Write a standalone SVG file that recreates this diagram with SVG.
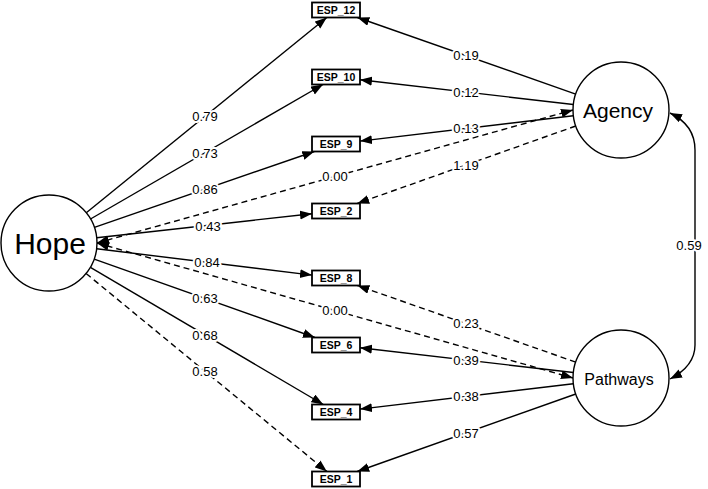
<svg xmlns="http://www.w3.org/2000/svg" width="708" height="489" viewBox="0 0 708 489">
<style>
.n{fill:#fff;stroke:#000;stroke-width:1.4}
.b{fill:#fff;stroke:#000;stroke-width:1.8}
.e{fill:none;stroke:#000;stroke-width:1.4}
.d{stroke-dasharray:6 4}
.bt{font-family:"Liberation Sans",Arial,sans-serif;font-size:10.5px;font-weight:bold;text-anchor:middle}
.l{font-family:"Liberation Sans",Arial,sans-serif;font-size:13px;text-anchor:middle;stroke:#fff;stroke-width:4;paint-order:stroke;stroke-linejoin:round}
.lt{font-family:"Liberation Sans",Arial,sans-serif;text-anchor:middle}
</style>
<defs>
<marker id="ah" markerUnits="userSpaceOnUse" markerWidth="13" markerHeight="10" refX="12" refY="4.5" orient="auto-start-reverse" viewBox="0 0 13 10">
<path d="M0,0 L12,4.5 L0,9 z" fill="#000"/>
</marker>
</defs>
<rect width="708" height="489" fill="#fff"/>
<g id="connectors">
<line class="e" x1="86.3" y1="212.7" x2="326.8" y2="17.5" marker-end="url(#ah)"/>
<line class="e" x1="90.5" y1="219.0" x2="323.0" y2="84.5" marker-end="url(#ah)"/>
<line class="e" x1="94.4" y1="227.3" x2="314.3" y2="151.5" marker-end="url(#ah)"/>
<line class="e" x1="96.7" y1="237.7" x2="312" y2="213.7" marker-end="url(#ah)"/>
<line class="e" x1="96.7" y1="248.8" x2="312" y2="275.1" marker-end="url(#ah)"/>
<line class="e" x1="94.2" y1="259.1" x2="314.9" y2="337.5" marker-end="url(#ah)"/>
<line class="e" x1="90.4" y1="267.4" x2="323.3" y2="404.5" marker-end="url(#ah)"/>
<line class="e d" x1="86.1" y1="273.5" x2="326.9" y2="471.5" marker-end="url(#ah)"/>
<line class="e" x1="575.7" y1="94.1" x2="357.4" y2="17.5" marker-end="url(#ah)"/>
<line class="e" x1="573.3" y1="104.5" x2="360" y2="79.8" marker-end="url(#ah)"/>
<line class="e" x1="573.3" y1="115.7" x2="360" y2="141.1" marker-end="url(#ah)"/>
<line class="e d" x1="575.8" y1="126.0" x2="357.2" y2="203.5" marker-end="url(#ah)"/>
<line class="e d" x1="575.7" y1="362.1" x2="357.4" y2="285.5" marker-end="url(#ah)"/>
<line class="e" x1="573.3" y1="372.5" x2="360" y2="347.8" marker-end="url(#ah)"/>
<line class="e" x1="573.3" y1="383.7" x2="360" y2="409.1" marker-end="url(#ah)"/>
<line class="e" x1="575.8" y1="394.0" x2="357.2" y2="471.5" marker-end="url(#ah)"/>
<line class="e d" x1="97" y1="243" x2="573" y2="110" marker-start="url(#ah)" marker-end="url(#ah)"/>
<line class="e d" x1="97" y1="243" x2="573" y2="378" marker-start="url(#ah)" marker-end="url(#ah)"/>
<path class="e" d="M670,113 Q695,125 695,150 L695,345 Q695,366 670,379" marker-start="url(#ah)" marker-end="url(#ah)"/>
<text class="l" x="205" y="121">0.79</text>
<text class="l" x="205" y="157.5">0.73</text>
<text class="l" x="205" y="194">0.86</text>
<text class="l" x="208" y="230.5">0.43</text>
<text class="l" x="207" y="267">0.84</text>
<text class="l" x="205" y="303">0.63</text>
<text class="l" x="205" y="339.5">0.68</text>
<text class="l" x="205" y="376">0.58</text>
<text class="l" x="335" y="181">0.00</text>
<text class="l" x="335" y="315">0.00</text>
<text class="l" x="466" y="60">0.19</text>
<text class="l" x="466" y="96.5">0.12</text>
<text class="l" x="466" y="133">0.13</text>
<text class="l" x="466" y="169.5">1.19</text>
<text class="l" x="466" y="328">0.23</text>
<text class="l" x="466" y="364.5">0.39</text>
<text class="l" x="466" y="401">0.38</text>
<text class="l" x="466" y="437.5">0.57</text>
<text class="l" x="689" y="249.5">0.59</text>
</g>
<g id="Hope"><circle class="n" cx="49" cy="243" r="48"/><text class="lt" x="50" y="254" font-size="30">Hope</text></g>
<g id="Agency"><circle class="n" cx="621" cy="110" r="48"/><text class="lt" x="618" y="118" font-size="21">Agency</text></g>
<g id="Pathways"><circle class="n" cx="621" cy="378" r="48"/><text class="lt" x="619" y="385" font-size="16">Pathways</text></g>
<g id="ESP_12"><rect class="b" x="312" y="2.5" width="48" height="15"/><text class="bt" x="336" y="14">ESP_12</text></g>
<g id="ESP_10"><rect class="b" x="312" y="69.5" width="48" height="15"/><text class="bt" x="336" y="81">ESP_10</text></g>
<g id="ESP_9"><rect class="b" x="312" y="136.5" width="48" height="15"/><text class="bt" x="336" y="148">ESP_9</text></g>
<g id="ESP_2"><rect class="b" x="312" y="203.5" width="48" height="15"/><text class="bt" x="336" y="215">ESP_2</text></g>
<g id="ESP_8"><rect class="b" x="312" y="270.5" width="48" height="15"/><text class="bt" x="336" y="282">ESP_8</text></g>
<g id="ESP_6"><rect class="b" x="312" y="337.5" width="48" height="15"/><text class="bt" x="336" y="349">ESP_6</text></g>
<g id="ESP_4"><rect class="b" x="312" y="404.5" width="48" height="15"/><text class="bt" x="336" y="416">ESP_4</text></g>
<g id="ESP_1"><rect class="b" x="312" y="471.5" width="48" height="15"/><text class="bt" x="336" y="483">ESP_1</text></g>
</svg>
